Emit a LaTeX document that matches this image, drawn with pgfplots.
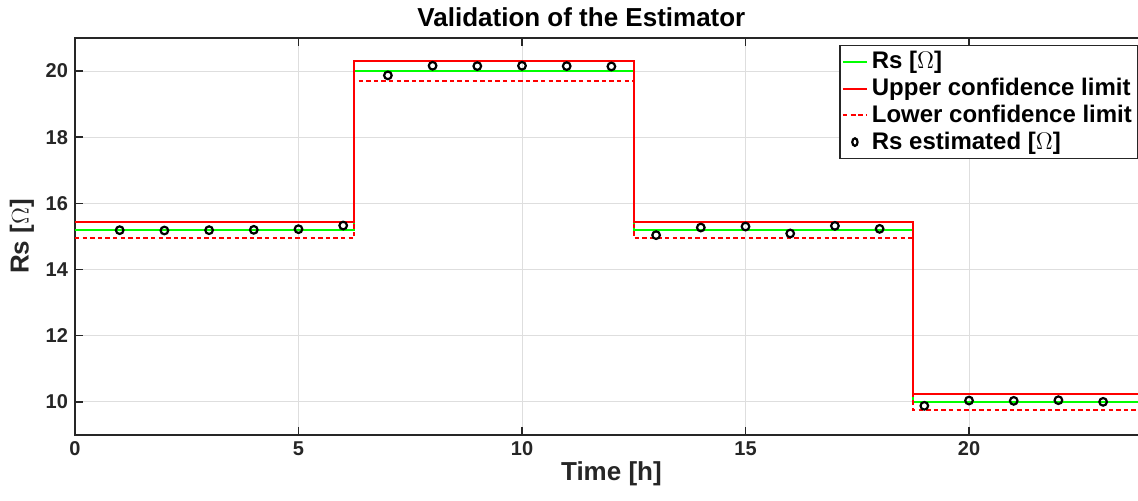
\documentclass[border=0pt]{standalone}
\usepackage{fontspec}
\setmainfont{Liberation Sans}
\usepackage{pgfplots}
\pgfplotsset{compat=1.18}

\definecolor{axgray}{RGB}{38,38,38}
\definecolor{gridgray}{RGB}{222,222,222}
\definecolor{mgreen}{RGB}{0,255,0}
\definecolor{mred}{RGB}{255,0,0}

\begin{document}
\begin{tikzpicture}
\begin{axis}[
    name=ax,
    scale only axis,
    width=536.5pt, height=198.5pt,
    xmin=0, xmax=24,
    ymin=9, ymax=21,
    xtick={0,5,10,15,20},
    ytick={10,12,14,16,18,20},
    grid=major,
    grid style={gridgray, line width=0.5pt},
    axis line style={axgray, line width=0.8pt},
    tick style={axgray, line width=0.8pt},
    major tick length=4pt,
    tick align=inside,
    /pgf/number format/assume math mode=true,
    ticklabel style={font=\bfseries\fontsize{10}{12}\selectfont, text=axgray},
    title={\bfseries Validation of the Estimator},
    title style={font=\fontsize{13}{15}\selectfont, yshift=-4pt, xshift=-15pt},
    xlabel={\bfseries Time [h]},
    ylabel={\bfseries Rs [$\Omega$]},
    label style={font=\fontsize{13}{15}\selectfont, text=axgray},
    xlabel style={yshift=4pt},
    ylabel style={yshift=-1pt},
    legend style={at={(0.7125,0.9825)}, anchor=north west, draw=axgray,
        line width=0.6pt, font=\bfseries\fontsize{12}{14}\selectfont,
        inner xsep=1pt, inner ysep=1pt, row sep=-0.8pt,
        legend cell align=left},
    legend image post style={xscale=0.7},
]
\addplot[const plot, draw=mgreen, line width=1pt] coordinates {
    (0,15.2)(6.25,20)(12.5,15.2)(18.75,10)(24,10)};
\addlegendentry{Rs [$\Omega$]}
\addplot[const plot, draw=mred, line width=1pt] coordinates {
    (0,15.45)(6.25,20.3)(12.5,15.45)(18.75,10.25)(24,10.25)};
\addlegendentry{Upper confidence limit}
\addplot[const plot, draw=mred, line width=0.9pt, dash pattern=on 2.2pt off 1.6pt] coordinates {
    (0,14.95)(6.25,19.7)(12.5,14.95)(18.75,9.75)(24,9.75)};
\addlegendentry{Lower confidence limit}
\addplot[only marks, mark=o, mark size=1.9pt, draw=black, line width=1.1pt] coordinates {
    (1,15.19)(2,15.18)(3,15.19)(4,15.2)(5,15.22)(6,15.33)
    (7,19.87)(8,20.16)(9,20.15)(10,20.16)(11,20.15)(12,20.14)
    (13,15.04)(14,15.27)(15,15.3)(16,15.09)(17,15.32)(18,15.23)
    (19,9.88)(20,10.04)(21,10.03)(22,10.05)(23,10.0)};
\addlegendentry{Rs estimated [$\Omega$]}
\coordinate (R) at (axis cs:23.78,21);
\end{axis}
\pgfresetboundingbox
\path ([xshift=-37.5pt,yshift=-33pt]ax.south west) rectangle ([yshift=19pt]R);
\end{tikzpicture}
\end{document}
